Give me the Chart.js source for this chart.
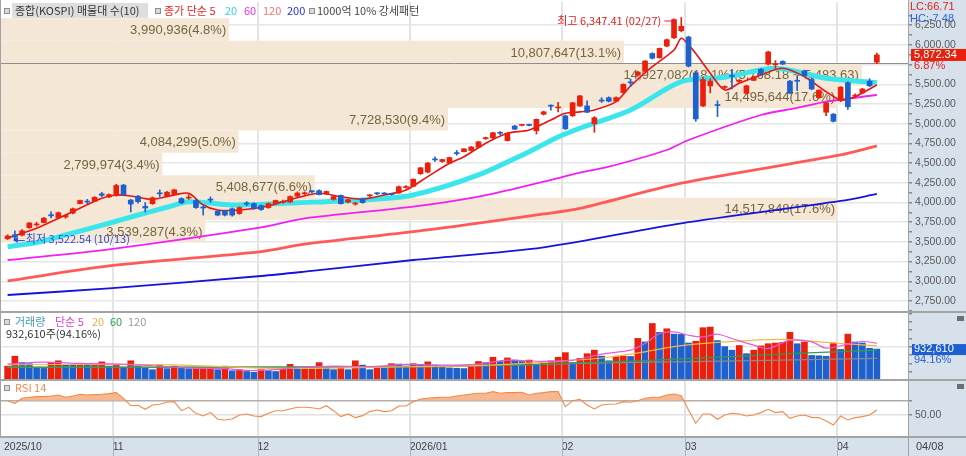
<!DOCTYPE html>
<html>
<head>
<meta charset="utf-8">
<title>KOSPI</title>
<script src="https://cdn.jsdelivr.net/npm/chart.js@4.4.1/dist/chart.umd.min.js"></script>
<style>
  html, body { margin: 0; padding: 0; background: #fff; overflow: hidden; }
  canvas { display: block; }
</style>
</head>
<body>
<canvas id="hts" width="966" height="456"></canvas>
<script>
// daily candles, 2025/10/13 .. 2026/04/08
const openP = [3540,3590,3585,3680,3715,3745,3845,3805,3815,3865,
  3985,4015,4015,4110,4070,4090,4220,4030,4080,3950,
  3985,4120,4080,4100,4050,4055,4025,3940,4040,3890,
  3895,3920,3860,3990,3985,3960,3935,3985,4000,4005,
  4080,4110,4145,4150,4110,4040,4090,4005,3980,4045,
  4085,4115,4115,4105,4120,4190,4205,4365,4385,4548,
  4520,4500,4628,4645,4660,4700,4810,4820,4885,4785,
  4970,4978,4984,4910,5120,5228,5200,5099,5100,5225,
  5225,5000,5292,5330,5285,5395,5525,5615,5670,5890,
  5836,5985,6090,6180,6100,5645,5225,5480,5240,5460,
  5606,5538,5385,5550,5690,5755,5748,5790,5540,5545,
  5668,5560,5330,5145,5120,5290,5520,5348,5390,5540,5780];
const highP = [3590,3640,3655,3745,3750,3810,3880,3880,3850,3930,
  4030,4040,4075,4130,4110,4230,4230,4040,4090,4000,
  4070,4160,4140,4170,4060,4100,4040,3950,4070,3900,
  3900,3930,3945,4010,3995,3970,3995,4030,4030,4085,
  4135,4135,4150,4160,4145,4080,4095,4040,4000,4050,
  4100,4125,4125,4115,4210,4215,4300,4445,4510,4580,
  4550,4575,4660,4685,4710,4775,4830,4890,4900,4885,
  4980,4990,4995,5060,5160,5240,5270,5110,5270,5360,
  5290,5090,5330,5340,5340,5505,5565,5665,5800,5900,
  5960,6075,6330,6347.41,6110,5660,5590,5570,5290,5480,
  5690,5560,5490,5600,5700,5920,5800,5800,5550,5600,
  5680,5580,5430,5270,5130,5470,5530,5380,5450,5570,5895];
const lowP = [3530,3522.54,3575,3670,3700,3740,3805,3800,3800,3855,
  3980,3985,4010,4075,4060,4080,4090,3880,3990,3880,
  3975,4075,4070,4090,3985,4040,3925,3840,4000,3830,
  3830,3825,3850,3960,3915,3900,3925,3975,3990,4000,
  4070,4100,4120,4095,4100,4030,3980,3995,3965,3990,
  4070,4100,4100,4090,4115,4180,4200,4355,4375,4520,
  4510,4490,4600,4640,4650,4690,4800,4810,4860,4780,
  4925,4970,4970,4868,5110,5170,5150,4925,5090,5220,
  5140,4890,5270,5275,5280,5385,5475,5605,5660,5820,
  5830,5975,6080,6165,5720,5030,5215,5390,5090,5440,
  5440,5520,5375,5545,5620,5745,5700,5750,5380,5420,
  5600,5430,5320,5100,5020,5280,5180,5330,5380,5470,5760];
const closeP = [3575,3560,3640,3740,3725,3800,3830,3870,3835,3920,
  4025,4005,4065,4090,4100,4215,4100,3980,4010,3930,
  4060,4110,4130,4160,3995,4065,3935,3930,4030,3840,
  3840,3840,3935,3980,3925,3910,3985,4025,4010,4075,
  4120,4120,4135,4100,4140,4075,3985,4035,3990,3998,
  4090,4110,4108,4100,4200,4197,4295,4440,4500,4540,
  4545,4570,4620,4680,4705,4770,4815,4885,4878,4880,
  4930,4984,4978,5055,5150,5222,5208,4935,5265,5352,
  5145,5075,5287,5285,5330,5500,5518,5655,5795,5830,
  5955,6065,6320,6235,5730,5060,5560,5540,5230,5468,
  5600,5542,5480,5590,5625,5910,5755,5755,5385,5538,
  5605,5440,5425,5265,5030,5465,5215,5355,5440,5480,5872.34];
const volume = [418000,717000,524000,492000,363000,350000,524000,579000,472000,450000,
  504000,450000,470000,547000,418000,440000,386000,579000,418000,363000,
  311000,440000,343000,418000,363000,340000,350000,363000,370000,311000,
  418000,279000,311000,257000,236000,311000,279000,257000,343000,472000,
  386000,390000,395000,524000,386000,311000,397000,311000,579000,450000,
  311000,386000,363000,492000,480000,418000,492000,470000,547000,450000,
  380000,364000,355000,345000,450000,557000,525000,686000,557000,665000,
  600000,557000,600000,450000,504000,579000,686000,825000,525000,654000,
  793000,900000,718000,579000,707000,718000,710000,1254000,1147000,1704000,
  1436000,1544000,1383000,1375000,1115000,1168000,1576000,1597000,1190000,1008000,
  900000,1040000,793000,900000,1029000,1093000,1115000,1136000,1436000,1093000,
  1147000,740000,730000,715000,1115000,922000,1383000,1147000,1115000,954000,932610];
const rsi14 = [70,66.3,73.3,74.7,75.6,75.6,76.5,77.9,74.7,76.5,
  78.9,77.9,78.4,78.9,79.8,81.2,73.3,63,63.5,58,
  64,65,67.7,68.6,56,60.7,52.3,48.6,53.7,44,
  43,44.4,50,51.4,48.6,47.7,52.3,56,56,58.4,
  60.7,60.7,60.2,58.4,63,56,47.7,51.4,46.3,49.1,
  54.7,57,54.7,56,62.6,62.6,68.6,72.3,73.3,74.2,
  74.7,74.7,76.5,77.9,79.3,80.3,80.3,82.6,80.3,81.2,
  81.2,81.7,77.9,80.3,81.2,82.6,82.6,61.6,70,71.9,
  64,58.4,64,64.9,65.4,68.6,67.7,70,73.3,74.7,
  74.7,77.9,79.3,77,57,38.4,51.4,51.4,44,50,
  52.3,51.4,48.6,50,53.3,57.9,53.3,54.7,45.3,48.6,
  50,46.7,46.3,41.6,36,48.6,43,46.3,47.7,50,57];

// moving averages: [candle index, value]
const ma5Pts = [[0,3549],[4,3673],[8,3841],[13,4053],[15,4095],[17,4082],[20,4041],[23,4095],[25,4117],
  [27,3968],[29,3905],[32,3905],[36,3956],[40,4061],[43,4117],[46,4073],[49,4041],[52,4095],[55,4159],
  [58,4328],[61,4497],[63,4581],[66,4751],[69,4878],[72,4920],[75,5047],[77,5132],[79,5150],[81,5174],
  [84,5279],[86,5478],[89,5723],[92,5935],[93,6084],[94,6000],[95,5890],[97,5640],[99,5428],[101,5513],
  [104,5618],[107,5703],[110,5596],[113,5406],[115,5301],[117,5343],[120,5491]];
const ma20Pts = [[0,3439],[4,3490],[8,3588],[14,3736],[18,3841],[22,3939],[25,4010],[31,3968],[40,3997],
  [49,4032],[56,4095],[65,4349],[72,4645],[76,4831],[79,4942],[86,5174],[93,5533],[99,5589],[106,5703],
  [113,5576],[120,5520]];
const ma60Pts = [[0,3270],[14,3406],[35,3685],[41,3799],[56,3947],[65,4074],[74,4264],[79,4378],[83,4454],
  [91,4666],[94,4793],[104,5110],[109,5199],[113,5279],[120,5364]];
const ma120Pts = [[0,3004],[14,3194],[35,3376],[41,3470],[58,3651],[74,3854],[79,3924],[93,4244],[115,4603],[120,4717]];
const ma200Pts = [[0,2826],[14,2911],[35,3067],[41,3122],[56,3270],[74,3431],[93,3736],[115,4019],[120,4108]];

const volMa5Pts = [[0,480000],[5,540000],[10,500000],[15,480000],[20,430000],[25,360000],[30,340000],[33,290000],
  [36,300000],[40,370000],[45,420000],[50,400000],[55,470000],[60,450000],[65,480000],[69,600000],[74,560000],
  [78,600000],[82,780000],[86,900000],[88,1100000],[90,1400000],[92,1450000],[94,1350000],[96,1300000],
  [98,1380000],[100,1250000],[103,1050000],[105,950000],[108,1200000],[111,1150000],[113,960000],
  [116,1080000],[118,1160000],[120,1110000]];
const volMa20Pts = [[0,460000],[15,470000],[25,440000],[35,360000],[45,360000],[55,400000],[62,420000],
  [69,472000],[76,560000],[83,686000],[88,850000],[92,1008000],[99,1147000],[107,1222000],[114,1115000],[120,1029000]];
const volMa60Pts = [[0,390000],[30,386000],[60,418000],[73,472000],[87,579000],[96,665000],[108,793000],[120,900000]];
const volMa120Pts = [[0,380000],[40,390000],[60,400000],[82,515000],[101,579000],[120,654000]];

// price-volume profile (10 zones, bottom to top)
const profileEdges = [3491.78,3776.33,4060.88,4345.43,4629.98,4914.53,5199.08,5483.63,5768.18,6052.73,6337.28];
const profileVol = [3539287,14517848,5408677,2799974,4084299,7728530,14495644,14927082,10807647,3990936];
const profilePct = [4.3,17.6,6.6,3.4,5.0,9.4,17.6,18.1,13.1,4.8];

// month boundaries on the candle index axis
const monthTicks = [-0.5,14.5,34.5,55.5,76.5,93.5,114.5];
const monthLabels = ['2025/10','11','12','2026/01','02','03','04'];

const UP = '#ea1f0c', DOWN = '#1e60cc';
const NUMF = '"Liberation Sans", Arial, sans-serif';
const KRF = '"Noto Sans CJK KR", "Liberation Sans", sans-serif';
const fmt2 = v => v.toLocaleString('en-US', {minimumFractionDigits: 2, maximumFractionDigits: 2});
const idx = closeP.map((_, i) => i);
const candleColor = c => closeP[c.dataIndex] >= openP[c.dataIndex] ? UP : DOWN;
const volColor = c => { const i = c.dataIndex; return (i === 0 || volume[i] >= volume[i - 1]) ? UP : DOWN; };
const maxK = profilePct.indexOf(Math.max(...profilePct));

const maLine = (pts, color, w, yAxisID, order) => ({
  type: 'line', data: pts.map(([x, y]) => ({x, y})), xAxisID: 'x', yAxisID,
  borderColor: color, borderWidth: w, pointRadius: 0, tension: 0.3, fill: false, order
});

const bands = profilePct.map((p, k) => ({
  type: 'line', xAxisID: 'xp', yAxisID: 'y', order: 100,
  data: [{x: 0, y: profileEdges[k + 1]}, {x: p, y: profileEdges[k + 1]}],
  borderColor: 'rgba(0,0,0,0)', borderWidth: 0, pointRadius: 0,
  backgroundColor: '#f5e7d5', fill: {value: profileEdges[k]}
}));

function txt(ctx, s, x, y, color, font, align) {
  ctx.font = font; ctx.fillStyle = color;
  ctx.textAlign = align || 'left'; ctx.textBaseline = 'middle';
  ctx.fillText(s, x, y);
}
function seg(ctx, x1, y1, x2, y2) { ctx.beginPath(); ctx.moveTo(x1, y1); ctx.lineTo(x2, y2); ctx.stroke(); }
function box(ctx, x, y) {
  ctx.fillStyle = '#8e8e8e'; ctx.fillRect(x, y - 3, 6, 6);
  ctx.fillStyle = '#dadada'; ctx.fillRect(x + 1, y - 2, 4, 4);
}

const hts = {
  id: 'hts',
  beforeDraw(chart) {
    const {ctx, chartArea: a, width, height} = chart;
    ctx.save();
    ctx.fillStyle = '#ffffff'; ctx.fillRect(0, 0, width, height);
    ctx.fillStyle = '#d7e1ec';
    ctx.fillRect(a.right, 0, width - a.right, height);
    ctx.fillRect(0, a.bottom, width, height - a.bottom);
    ctx.restore();
  },
  beforeDatasetsDraw(chart) {
    const {ctx, scales: {xp, y}} = chart;
    ctx.save();
    profilePct.forEach((p, k) => {
      let s = profileVol[k].toLocaleString('en-US') + '(' + p.toFixed(1) + '%)';
      if (k === maxK) s += '(' + fmt2(profileEdges[k + 1]) + ' ~ ' + fmt2(profileEdges[k]) + ')';
      const yy = (y.getPixelForValue(profileEdges[k]) + y.getPixelForValue(profileEdges[k + 1])) / 2;
      txt(ctx, s, xp.getPixelForValue(p) - 3, yy + 1, '#74653e', '13px ' + NUMF, 'right');
    });
    // strong line at the top of the heaviest zone
    ctx.strokeStyle = '#8f8f8f'; ctx.lineWidth = 1;
    const yl = Math.round(y.getPixelForValue(profileEdges[maxK + 1])) + 0.5;
    seg(ctx, chart.chartArea.left, yl, chart.chartArea.right, yl);
    ctx.restore();
  },
  afterDraw(chart) {
    const {ctx, chartArea: a, width, height, scales} = chart;
    ctx.save();
    // panel frames
    ctx.strokeStyle = '#a4a4a4'; ctx.lineWidth = 2;
    [scales.yv.top, scales.yr.top, a.bottom].forEach(yy => seg(ctx, 0, yy, width, yy));
    ctx.lineWidth = 1;
    seg(ctx, a.right + 0.5, 0, a.right + 0.5, height);
    seg(ctx, 0.5, 0, 0.5, a.bottom);
    ctx.strokeStyle = '#aab4c1';
    monthTicks.slice(1).forEach(t => {
      const xx = Math.round(scales.x.getPixelForValue(t)) + 0.5;
      seg(ctx, xx, a.bottom, xx, height);
    });

    // legend rows
    const f11 = '11px ' + KRF;
    box(ctx, 4, 11);
    ctx.fillStyle = '#dedede'; ctx.fillRect(12, 3, 136, 15);
    txt(ctx, '종합(KOSPI) 매물대 수(10)', 15, 11, '#333333', f11);
    box(ctx, 155, 11);
    txt(ctx, '종가 단순 5', 164, 11, '#ee2222', f11);
    txt(ctx, '20', 225, 11, '#30d8e2', f11);
    txt(ctx, '60', 244, 11, '#f02ef0', f11);
    txt(ctx, '120', 263, 11, '#ff6f6f', f11);
    txt(ctx, '200', 287, 11, '#2233dd', f11);
    box(ctx, 309, 11);
    txt(ctx, '1000억 10% 강세패턴', 317, 11, '#444444', f11);

    box(ctx, 4, 322);
    txt(ctx, '거래량', 15, 322, '#3f9db3', f11);
    txt(ctx, '단순 5', 55, 322, '#e040d0', f11);
    txt(ctx, '20', 92, 322, '#f0b040', f11);
    txt(ctx, '60', 110, 322, '#2ea050', f11);
    txt(ctx, '120', 128, 322, '#9a9a9a', f11);
    txt(ctx, volume[volume.length - 1].toLocaleString('en-US') + '주(94.16%)', 6, 334, '#333333', f11);

    box(ctx, 4, 388);
    txt(ctx, 'RSI 14', 15, 388, '#f08a4b', f11);

    // high / low marks
    const last = closeP.length - 1;
    const hi = highP.indexOf(Math.max(...highP));
    const lo = lowP.indexOf(Math.min(...lowP));
    const hx = scales.x.getPixelForValue(hi), hy = scales.y.getPixelForValue(highP[hi]);
    ctx.strokeStyle = '#e02020'; ctx.fillStyle = '#e02020'; ctx.lineWidth = 1;
    txt(ctx, '최고 ' + fmt2(highP[hi]) + ' (02/27)', hx - 20, hy + 3, '#e02020', f11, 'right');
    seg(ctx, hx - 17, hy + 3.5, hx - 7, hy + 3.5);
    ctx.beginPath(); ctx.moveTo(hx - 5, hy + 3.5); ctx.lineTo(hx - 9, hy + 1); ctx.lineTo(hx - 9, hy + 6); ctx.fill();
    const lx = scales.x.getPixelForValue(lo), ly = scales.y.getPixelForValue(lowP[lo]);
    ctx.fillStyle = '#3048d8'; ctx.strokeStyle = '#3048d8';
    ctx.beginPath(); ctx.moveTo(lx - 2, ly); ctx.lineTo(lx + 3, ly - 3); ctx.lineTo(lx + 3, ly + 3); ctx.fill();
    seg(ctx, lx + 3, ly + 0.5, lx + 10, ly + 0.5);
    txt(ctx, '최저 ' + fmt2(lowP[lo]) + ' (10/13)', lx + 11, ly - 1, '#3048d8', f11);

    // right side readouts
    const fN = '11px ' + NUMF;
    txt(ctx, 'LC:66.71', 910, 7, '#e02020', fN);
    txt(ctx, 'HC:-7.48', 910, 19, '#2f63d0', fN);
    const py = scales.y.getPixelForValue(closeP[last]);
    ctx.fillStyle = '#d7e1ec'; ctx.fillRect(912, py + 6, 54, 12);
    ctx.fillStyle = '#e8200c'; ctx.fillRect(911, py - 6, 55, 12);
    txt(ctx, fmt2(closeP[last]), 914, py, '#ffffff', fN);
    txt(ctx, '6.87%', 914, py + 11, '#e02020', fN);
    const vy = scales.yv.getPixelForValue(volume[last]);
    ctx.fillStyle = '#1d5fcf'; ctx.fillRect(912, vy - 5, 54, 11);
    txt(ctx, volume[last].toLocaleString('en-US'), 914, vy, '#ffffff', fN);
    txt(ctx, '94.16%', 914, vy + 11, '#2f63d0', fN);
    ctx.fillStyle = '#6e6e6e';
    ctx.fillRect(957, scales.yv.top + 4, 7, 5);
    ctx.fillRect(957, scales.yr.top + 4, 7, 5);
    txt(ctx, '04/08', 916, 447, '#444444', fN);
    ctx.restore();
  }
};

new Chart(document.getElementById('hts'), {
  type: 'line',
  data: {
    datasets: [
      {type: 'bar', label: 'body', data: idx.map(i => ({x: i, y: [openP[i], closeP[i]]})),
        xAxisID: 'x', yAxisID: 'y', backgroundColor: candleColor, barThickness: 5,
        minBarLength: 1, grouped: false, order: 1},
      {type: 'bar', label: 'wick', data: idx.map(i => ({x: i, y: [lowP[i], highP[i]]})),
        xAxisID: 'x', yAxisID: 'y', backgroundColor: candleColor, barThickness: 1,
        grouped: false, order: 2},
      maLine(ma5Pts, '#e81414', 1.6, 'y', 5),
      maLine(ma20Pts, '#3ae6ec', 5, 'y', 6),
      maLine(ma60Pts, '#f21ef2', 1.8, 'y', 7),
      maLine(ma120Pts, '#ff5a5a', 2.8, 'y', 8),
      maLine(ma200Pts, '#1414dc', 1.8, 'y', 9),
      ...bands,
      {type: 'bar', label: 'volume', data: idx.map(i => ({x: i, y: volume[i]})),
        xAxisID: 'x', yAxisID: 'yv', backgroundColor: volColor, barThickness: 6,
        grouped: false, order: 20},
      maLine(volMa5Pts, '#e55ad6', 1.2, 'yv', 15),
      maLine(volMa20Pts, '#f2b84a', 1.2, 'yv', 16),
      maLine(volMa60Pts, '#2f9e4c', 1.2, 'yv', 17),
      maLine(volMa120Pts, '#8a8a8a', 1.2, 'yv', 18),
      {type: 'line', label: 'RSI', data: idx.map(i => ({x: i, y: rsi14[i]})),
        xAxisID: 'x', yAxisID: 'yr', borderColor: '#f28a48', borderWidth: 1.1, pointRadius: 0,
        tension: 0, fill: {value: 70, above: '#f7b891', below: 'rgba(0,0,0,0)'}, order: 30}
    ]
  },
  options: {
    responsive: false,
    devicePixelRatio: 1,
    animation: false,
    layout: {padding: {top: 2, left: 0, right: 0, bottom: 0}},
    plugins: {legend: {display: false}, tooltip: {enabled: false}, filler: {drawTime: 'beforeDatasetsDraw'}},
    scales: {
      x: {
        type: 'linear', position: 'bottom', min: -0.924, max: 124.3, offset: false,
        afterBuildTicks: s => { s.ticks = monthTicks.map(v => ({value: v})); },
        afterFit: s => { s.height = 19; },
        ticks: {callback: (v, i) => monthLabels[i], align: 'start', autoSkip: false, maxRotation: 0,
          padding: 4, color: '#444', font: {family: NUMF, size: 10.5}},
        grid: {offset: false, drawTicks: false, lineWidth: 2,
          color: c => c.index === 0 ? 'rgba(0,0,0,0)' : '#e4e4e4'},
        border: {display: false}
      },
      xp: {type: 'linear', position: 'bottom', display: false, min: 0, max: 19.07},
      y: {
        type: 'linear', position: 'right', stack: 'hts', stackWeight: 310, min: 2610, max: 6544,
        afterBuildTicks: s => { const t = []; for (let v = 2625; v <= 6375; v += 125) t.push({value: v}); s.ticks = t; },
        afterFit: s => { s.width = 58; s.paddingTop = 0; s.paddingBottom = 0; },
        ticks: {callback: v => v % 250 === 0 ? fmt2(v) : '', autoSkip: false, padding: 3,
          color: '#5a5a5a', font: {family: NUMF, size: 10.5}},
        grid: {lineWidth: 1.5, tickLength: 4, tickColor: '#888',
          color: c => c.tick && c.tick.value % 250 === 0 ? '#e6e6e6' : 'rgba(0,0,0,0)'},
        border: {display: false}
      },
      yv: {
        type: 'linear', position: 'right', stack: 'hts', stackWeight: 68, min: 0, max: 2050000,
        afterBuildTicks: s => { const t = []; for (let v = 250000; v <= 2000000; v += 250000) t.push({value: v}); s.ticks = t; },
        afterFit: s => { s.width = 58; s.paddingTop = 0; s.paddingBottom = 0; },
        ticks: {callback: () => '', autoSkip: false},
        grid: {lineWidth: 1.5, tickLength: 4, tickColor: '#888',
          color: c => c.tick && c.tick.value === 1000000 ? '#e6e6e6' : 'rgba(0,0,0,0)'},
        border: {display: false}
      },
      yr: {
        type: 'linear', position: 'right', stack: 'hts', stackWeight: 57, min: 19.2, max: 98.9,
        afterBuildTicks: s => { s.ticks = [{value: 50}, {value: 70}]; },
        afterFit: s => { s.width = 58; s.paddingTop = 0; s.paddingBottom = 0; },
        ticks: {callback: v => v === 50 ? fmt2(v) : '', autoSkip: false, padding: 3,
          color: '#5a5a5a', font: {family: NUMF, size: 10.5}},
        grid: {lineWidth: 1.5, tickLength: 4, tickColor: '#888',
          color: c => c.tick && c.tick.value === 70 ? '#ababab' : '#e0e0e0'},
        border: {display: false}
      }
    }
  },
  plugins: [hts]
});
</script>
</body>
</html>
